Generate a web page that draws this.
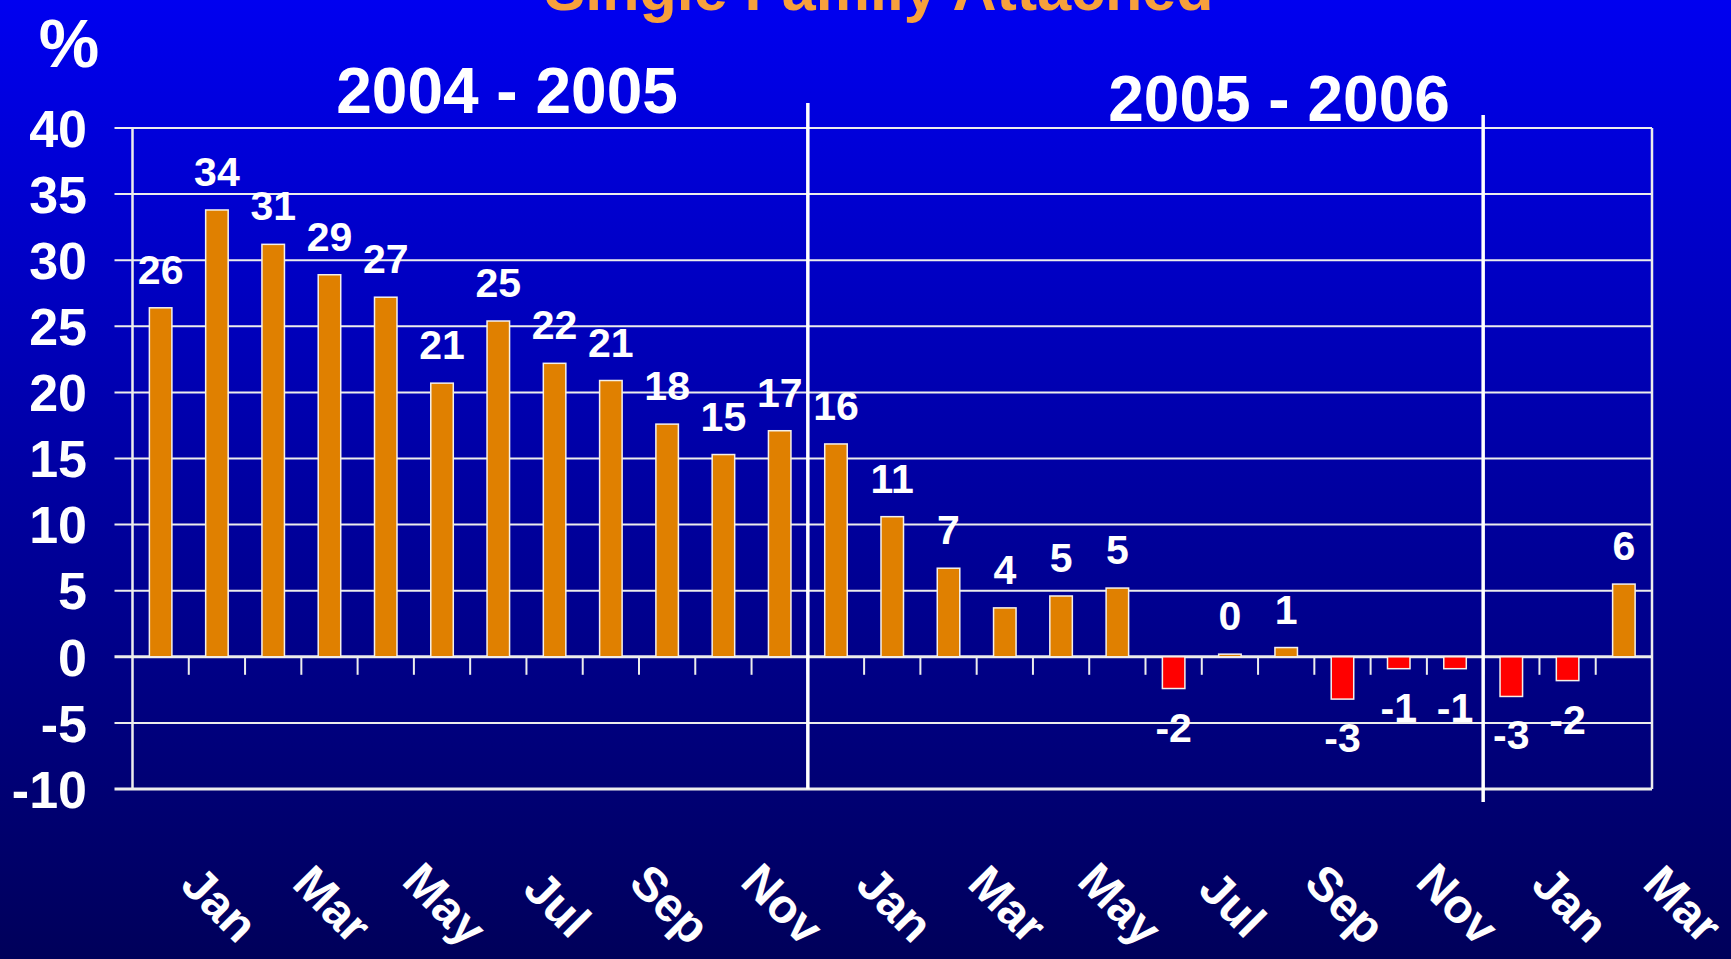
<!DOCTYPE html>
<html>
<head>
<meta charset="utf-8" />
<script src="https://cdn.jsdelivr.net/npm/d3@7"></script>
<style>
  body { margin: 0; overflow: hidden; background: #000060; }
  text { font-family: "Liberation Sans", Arial, sans-serif; font-weight: bold; }
</style>
</head>
<body>
<div id="main-chart"></div>
<script>
const width = 1731;
const height = 959;
const margin = { left: 132.5, right: 79, top: 128, bottom: 169 };

// month categories (Dec 03 .. Mar 06), the last one has no bar
const months = [
  "Dec", "Jan", "Feb", "Mar", "Apr", "May", "Jun", "Jul", "Aug", "Sep", "Oct", "Nov",
  "Dec", "Jan", "Feb", "Mar", "Apr", "May", "Jun", "Jul", "Aug", "Sep", "Oct", "Nov",
  "Dec", "Jan", "Feb", "Mar",
];
const changes = [
  26.4, 33.8, 31.2, 28.9, 27.2, 20.7, 25.4, 22.2, 20.9, 17.6, 15.3, 17.1,
  16.1, 10.6, 6.7, 3.7, 4.6, 5.2, -2.4, 0.2, 0.7, -3.2, -0.9, -0.9,
  -3.0, -1.8, 5.5,
];
const yTicks = [-10, -5, 0, 5, 10, 15, 20, 25, 30, 35, 40];
const periods = ["2004 - 2005", "2005 - 2006"];
const dividerIndex = [12, 24];
const title = "Single Family Attached";

const barColor = "#e08000";
const negColor = "#ff0000";
const lineColor = "#ececec";

const svg = d3
  .select("#main-chart")
  .append("svg")
  .attr("width", width)
  .attr("height", height);

const defs = svg.append("defs");
const grad = defs
  .append("linearGradient")
  .attr("id", "bg")
  .attr("x1", 0)
  .attr("y1", 0)
  .attr("x2", 0)
  .attr("y2", 1);
grad.append("stop").attr("offset", "0%").attr("stop-color", "#0000f0");
grad.append("stop").attr("offset", "50%").attr("stop-color", "#0000a2");
grad.append("stop").attr("offset", "100%").attr("stop-color", "#00005a");

svg
  .append("rect")
  .attr("width", width)
  .attr("height", height)
  .attr("fill", "url(#bg)");

const step = (width - margin.left - margin.right) / changes.length;
const x = d3
  .scaleBand()
  .domain(d3.range(months.length))
  .range([margin.left, margin.left + step * months.length]);

const y = d3
  .scaleLinear()
  .domain([-10, 40])
  .range([height - margin.bottom - 1, margin.top]);

const plotRight = x(changes.length);
const barWidth = x.bandwidth() * 0.4;

// gridlines + y tick marks
svg
  .append("g")
  .selectAll("line")
  .data(yTicks)
  .join("line")
  .attr("x1", margin.left - 18)
  .attr("x2", plotRight)
  .attr("y1", (d) => y(d))
  .attr("y2", (d) => y(d))
  .attr("stroke", lineColor)
  .attr("stroke-width", (d) => (d === -10 || d === 0 ? 3 : 2));

// frame sides
svg
  .append("g")
  .selectAll("line")
  .data([margin.left, plotRight])
  .join("line")
  .attr("x1", (d) => d)
  .attr("x2", (d) => d)
  .attr("y1", y(40))
  .attr("y2", y(-10))
  .attr("stroke", lineColor)
  .attr("stroke-width", 2.5);

// y labels
svg
  .append("g")
  .selectAll("text")
  .data(yTicks)
  .join("text")
  .attr("x", 87)
  .attr("y", (d) => y(d))
  .attr("dy", "0.36em")
  .attr("text-anchor", "end")
  .attr("fill", "#fff")
  .attr("font-size", 52)
  .text((d) => d);

// category ticks under the zero line
svg
  .append("g")
  .selectAll("line")
  .data(d3.range(1, changes.length))
  .join("line")
  .attr("x1", (d) => x(d))
  .attr("x2", (d) => x(d))
  .attr("y1", y(0))
  .attr("y2", y(0) + 18)
  .attr("stroke", lineColor)
  .attr("stroke-width", 2);

// bars
svg
  .append("g")
  .selectAll("rect")
  .data(changes)
  .join("rect")
  .attr("x", (d, i) => x(i) + (x.bandwidth() - barWidth) / 2)
  .attr("y", (d) => y(Math.max(0, d)))
  .attr("width", barWidth)
  .attr("height", (d) => Math.abs(y(d) - y(0)))
  .attr("fill", (d) => (d < 0 ? negColor : barColor))
  .attr("stroke", "#f4f0ea")
  .attr("stroke-width", 1.5);

// value labels
svg
  .append("g")
  .selectAll("text")
  .data(changes)
  .join("text")
  .attr("x", (d, i) => x(i) + x.bandwidth() / 2)
  .attr("y", (d) => (d < 0 ? y(d) + 53 : y(d) - 24))
  .attr("text-anchor", "middle")
  .attr("fill", "#fff")
  .attr("font-size", 41)
  .text((d) => Math.round(d));

// period dividers
svg
  .append("g")
  .selectAll("line")
  .data(dividerIndex)
  .join("line")
  .attr("x1", (d) => x(d))
  .attr("x2", (d) => x(d))
  .attr("y1", (d, i) => (i === 0 ? y(40) - 25 : y(40) - 13))
  .attr("y2", (d, i) => (i === 0 ? y(-10) : y(-10) + 13))
  .attr("stroke", "#fff")
  .attr("stroke-width", 3.5);

// x labels, every other month, rotated
svg
  .append("g")
  .selectAll("text")
  .data(months.map((m, i) => ({ m, i })).filter((d) => d.i % 2 === 1))
  .join("text")
  .attr(
    "transform",
    (d) => `translate(${x(d.i) + x.bandwidth() / 2 + 3}, 904) rotate(45)`
  )
  .attr("dy", "0.35em")
  .attr("text-anchor", "middle")
  .attr("fill", "#fff")
  .attr("font-size", 48)
  .text((d) => d.m);

// period headings
svg
  .append("g")
  .selectAll("text")
  .data(periods)
  .join("text")
  .attr("x", (d, i) => (i === 0 ? 507 : 1279))
  .attr("y", (d, i) => (i === 0 ? 113 : 121))
  .attr("text-anchor", "middle")
  .attr("fill", "#fff")
  .attr("font-size", 64)
  .text((d) => d);

svg
  .append("text")
  .attr("x", 69)
  .attr("y", 67)
  .attr("text-anchor", "middle")
  .attr("fill", "#fff")
  .attr("font-size", 68)
  .text("%");

// title sits partly above the top edge, as in the original slide
svg
  .append("text")
  .attr("x", 879)
  .attr("y", 10)
  .attr("text-anchor", "middle")
  .attr("fill", "#f7a03c")
  .attr("font-size", 61)
  .text(title);
</script>
</body>
</html>
